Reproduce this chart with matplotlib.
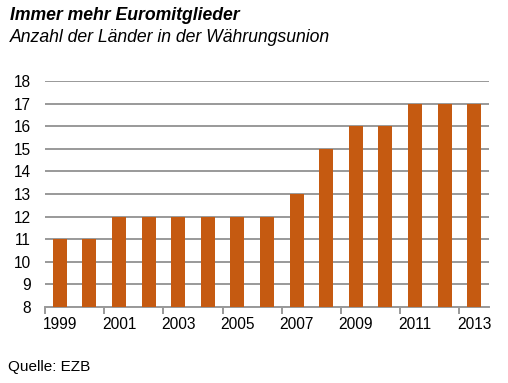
import numpy as np
import matplotlib.pyplot as plt

plt.rcParams['font.family'] = ['Liberation Sans', 'DejaVu Sans']

jahre = [1999, 2000, 2001, 2002, 2003, 2004, 2005, 2006, 2007, 2008, 2009, 2010, 2011, 2012, 2013]
laender = [11, 11, 12, 12, 12, 12, 12, 12, 13, 15, 16, 16, 17, 17, 17]

W, H = 508, 383
fig = plt.figure(figsize=(W / 100, H / 100), dpi=100)
ax = fig.add_axes([45 / W, 1 - 307 / H, (489 - 45) / W, (307 - 81) / H])

x = np.arange(len(jahre))
ax.bar(x, [v - 8 for v in laender], bottom=8, width=0.47, color='#C55A11', zorder=3)

ax.set_xlim(-0.5, len(jahre) - 0.5)
ax.set_ylim(8, 18)
ax.set_yticks(range(8, 19))
ax.yaxis.grid(True, color='#999999', linewidth=1.4, zorder=0)
ax.tick_params(axis='y', length=0, pad=10, labelsize=11.2)

# labels at every second year, tick marks at category borders
ax.set_xticks(x[::2])
ax.set_xticklabels([str(j) for j in jahre[::2]])
ax.tick_params(axis='x', which='major', length=0, pad=7, labelsize=11.2)
ax.set_xticks(x[::2] - 0.5, minor=True)
ax.tick_params(axis='x', which='minor', length=5, width=1.4, color='#999999', direction='out')

for s in ['top', 'right', 'left']:
    ax.spines[s].set_visible(False)
ax.spines['bottom'].set_color('#999999')
ax.spines['bottom'].set_linewidth(1.4)

fig.text(10 / W, 1 - 16 / H, 'Immer mehr Euromitglieder', fontsize=12.7,
         fontweight='bold', fontstyle='italic', va='center')
fig.text(10 / W, 1 - 38 / H, 'Anzahl der Länder in der Währungsunion', fontsize=12.7,
         fontstyle='italic', va='center')
fig.text(8 / W, 1 - 367 / H, 'Quelle: EZB', fontsize=11, va='center')

fig.savefig('out.png', dpi=100)
